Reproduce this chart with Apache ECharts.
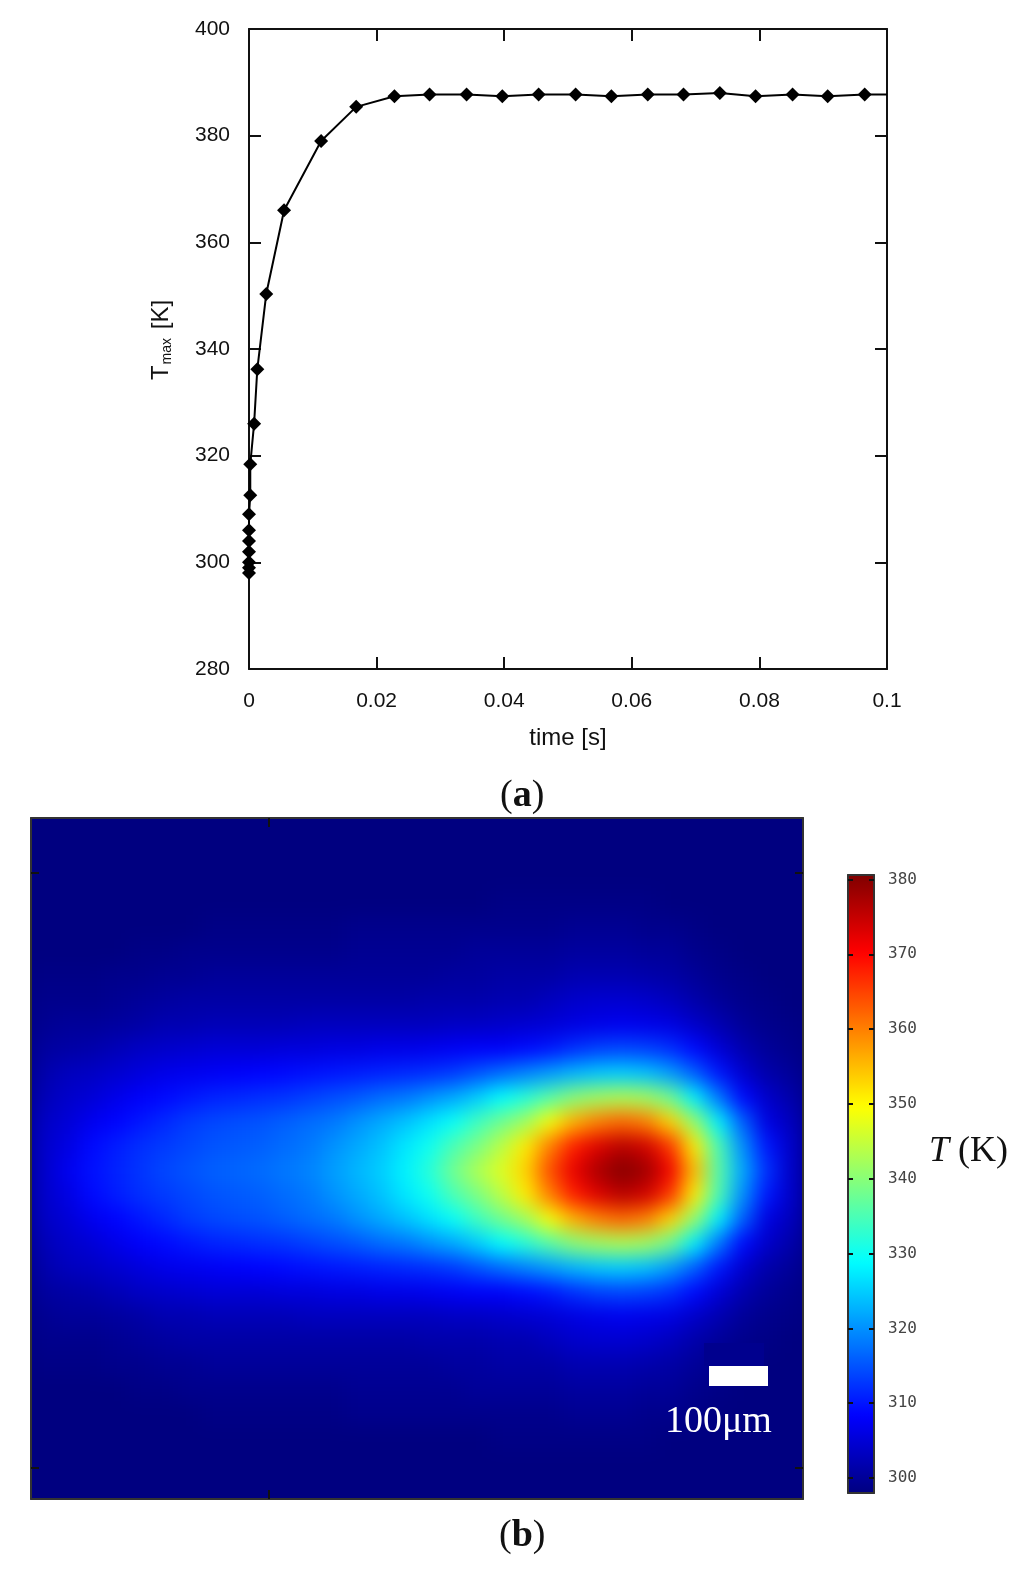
<!DOCTYPE html>
<html>
<head>
<meta charset="utf-8" />
<script src="https://cdn.jsdelivr.net/npm/echarts@6/dist/echarts.min.js"></script>
<title>Tmax and temperature field</title>
<style>
  body { margin: 0; background: #fff; }
  #page { position: relative; width: 1024px; height: 1570px; overflow: hidden; }
  #main { position: absolute; left: 0; top: 0; width: 1024px; height: 1570px; }
  #heatClip { position: absolute; left: 31px; top: 818px; width: 772px; height: 681px; overflow: hidden; background: #000080; }
  /* the field is a coarse read-off grid, the blur gives it back its smooth look */
  #heat { position: absolute; left: -30px; top: -30px; width: 832px; height: 741px; filter: blur(10px); }
</style>
</head>
<body>
<div id="page">
  <div id="heatClip"><div id="heat"></div></div>
  <div id="main"></div>
</div>
<script type="text/javascript">
// panel a: time [s] / Tmax [K]
var timeValues = [0, 0, 0, 0, 0, 0, 0, 0.0002, 0.0002, 0.0008, 0.0013, 0.0027, 0.0055, 0.0113, 0.0168, 0.0228, 0.0283, 0.0341, 0.0397, 0.0454, 0.0512, 0.0568, 0.0625, 0.0681, 0.0738, 0.0794, 0.0852, 0.0907, 0.0965, 0.1];
var tmaxValues = [298, 299, 300, 302, 304, 306, 309, 312.6, 318.4, 326, 336.2, 350.3, 366, 379, 385.4, 387.4, 387.7, 387.7, 387.4, 387.7, 387.7, 387.4, 387.7, 387.7, 388, 387.4, 387.7, 387.4, 387.7, 387.7];

var heatRows = [
  [298,298,298,298,298,298,298,298,298,298,298,298,298,298,298,298,298,298,298,298,298,298,298,298,298,298,298,298,298,298,298,298],
  [298,298,298,298,298,298,298,298,298,298,298,298,298,298,298,298,298,298,298,298,298,298,298,298,298,298,298,298,298,298,298,298],
  [298,298,298,298,298,298,298,298,298,298,298,298,298,298,298,298,298,298,298,298,298,298,298,298,298,298,298,298,298,298,298,298],
  [298,298,298,298,298,298,298,298,298,298,298,298,298,298,298,298,298,298,298,298.5,298.5,298.5,298.5,298.5,298.5,298.5,298,298,298,298,298,298],
  [298,298,298,298,298,298,298,298.5,298.5,298.5,298.5,298.5,298.5,299,299,299,299,299,299,299,299,299,299.5,299.5,299.5,299,299,298.5,298,298,298,298],
  [298,298,298,298,298.5,298.5,299,299,299,299,299,299,299,299.5,299.5,299.5,299.5,299.5,300,300,300,300,300.5,300.5,300.5,300,300,299,298.5,298,298,298],
  [298.5,298.5,298.5,299,299,299.5,299.5,300,300,300,300,300,300,300,300,300,300,300.5,300.5,301,301,301,302,302,302,301.5,301,300,299,298.5,298,298],
  [299,299,299,299.5,300,300.5,301,301,301,301,301,301,301,301,301,301,301.5,301.5,301.5,302,302,303,304,304.5,304.5,304,303,301.5,300,299,298.5,298],
  [299.5,300,300,300.5,301,302,302,302.5,302.5,302.5,302.5,303,303,303,303,303,303,303.5,303.5,304,304.5,305,306,306.5,307,306.5,306,304,302,300,299,298.5],
  [300.5,301,301.5,302.5,303.5,304,304.5,305,305,305,305.5,305.5,306,306,306.5,306.5,307,307.5,308,308,309,310,312,313.5,314,313.5,312,309,305,302,300,299],
  [301.5,303,303.5,304.5,305.5,306.5,307,307.5,308,308.5,309,309.5,310,310.5,311,311.5,312,313,315,317,319,321,323,324.5,325,324,321,316,310,304.5,301.5,300],
  [302.5,304,305,306.5,308,309,310,311,311.5,312,312.5,313.5,314.5,315.5,317,318,320,322,325,329,332,336,340,342,343,342,338,328,318,309,304,301.5],
  [303.5,305,307,308.5,310,311.5,313,314,314.5,315,316,317,318,320,322,324,326.5,329.5,334,338,342,349,356,360,362,360,353,341,328,316,306,303],
  [304,306,309,310.5,312,313,314,315,315.5,316,317,318,320,322,324,327,330,335,339,344,351,360,368,373,376,374,366,351,335,320,310,304],
  [304,307,309.5,311,312.5,314,315,316,316.5,317,318,319,321,323,325,328,332,338,343,347,353,364,372,377,380,378,371,355,336,322,312,304],
  [304,306,309,310.5,312,313,314,315,315.5,316,317,318,320,322,324,327,330,335,339,344,351,360,368,373,376,374,366,351,335,320,310,304],
  [303.5,305,307,308.5,310,311.5,313,314,314.5,315,316,317,318,320,322,324,326.5,329.5,334,338,342,349,356,360,362,360,353,341,328,316,306,303],
  [302.5,304,305,306.5,308,309,310,311,311.5,312,312.5,313.5,314.5,315.5,317,318,320,322,325,329,332,336,340,342,343,342,338,328,318,309,304,301.5],
  [301.5,303,303.5,304.5,305.5,306.5,307,307.5,308,308.5,309,309.5,310,310.5,311,311.5,312,313,315,317,319,321,323,324.5,325,324,321,316,310,304.5,301.5,300],
  [300.5,301,301.5,302.5,303.5,304,304.5,305,305,305,305.5,305.5,306,306,306.5,306.5,307,307.5,308,308,309,310,312,313.5,314,313.5,312,309,305,302,300,299],
  [299.5,300,300,300.5,301,302,302,302.5,302.5,302.5,302.5,303,303,303,303,303,303,303.5,303.5,304,304.5,305,306,306.5,307,306.5,306,304,302,300,299,298.5],
  [299,299,299,299.5,300,300.5,301,301,301,301,301,301,301,301,301,301,301.5,301.5,301.5,302,302,303,304,304.5,304.5,304,303,301.5,300,299,298.5,298],
  [298.5,298.5,298.5,299,299,299.5,299.5,300,300,300,300,300,300,300,300,300,300,300.5,300.5,301,301,301,302,302,302,301.5,301,300,299,298.5,298,298],
  [298,298,298,298,298.5,298.5,299,299,299,299,299,299,299,299.5,299.5,299.5,299.5,299.5,300,300,300,300,300.5,300.5,300.5,300,300,299,298.5,298,298,298],
  [298,298,298,298,298,298,298,298.5,298.5,298.5,298.5,298.5,298.5,299,299,299,299,299,299,299,299,299,299.5,299.5,299.5,299,299,298.5,298,298,298,298],
  [298,298,298,298,298,298,298,298,298,298,298,298,298,298,298,298,298,298,298,298.5,298.5,298.5,298.5,298.5,298.5,298.5,298,298,298,298,298,298],
  [298,298,298,298,298,298,298,298,298,298,298,298,298,298,298,298,298,298,298,298,298,298,298,298,298,298,298,298,298,298,298,298],
  [298,298,298,298,298,298,298,298,298,298,298,298,298,298,298,298,298,298,298,298,298,298,298,298,298,298,298,298,298,298,298,298]
];

// colour bar
var colorbarTicks = [300, 310, 320, 330, 340, 350, 360, 370, 380];
var colorMin = 298;
var colorMax = 380.6;
var jetColors = ['#000080', '#0000ff', '#0080ff', '#00ffff', '#80ff80', '#ffff00', '#ff8000', '#ff0000', '#800000'];

var sans = '"Liberation Sans", Arial, sans-serif';
var serif = '"Liberation Serif", "Times New Roman", serif';
var lineCol = '#111';

// ---- heat field, in its own blurred layer
var heatData = [];
for (var j = 0; j < heatRows.length; j++) {
  for (var i = 0; i < heatRows[j].length; i++) {
    heatData.push([i, j, heatRows[j][i]]);
  }
}
var heatChart = echarts.init(document.getElementById('heat'));
heatChart.setOption({
  animation: false,
  backgroundColor: '#000080',
  grid: { left: 30, top: 30, width: 772, height: 681 },
  xAxis: { type: 'category', show: false, data: heatRows[0].map(function (v, k) { return k; }) },
  yAxis: { type: 'category', show: false, inverse: true, data: heatRows.map(function (v, k) { return k; }) },
  visualMap: { show: false, type: 'continuous', min: colorMin, max: colorMax, inRange: { color: jetColors } },
  series: [{ type: 'heatmap', data: heatData, progressive: 0 }]
});

// ---- everything else
var lineData = timeValues.map(function (t, k) {
  var item = { value: [t, tmaxValues[k]] };
  if (k === timeValues.length - 1) { item.symbol = 'none'; }  // line just runs out at the frame
  return item;
});

function plainAxis(extra) {
  var base = {
    axisLine: { show: true, onZero: false, lineStyle: { color: lineCol, width: 2 } },
    axisTick: { show: true, inside: true, length: 12, lineStyle: { color: lineCol, width: 2 } },
    axisLabel: { show: false },
    splitLine: { show: false }
  };
  return Object.assign(base, extra);
}

var frameLine = { show: true, onZero: false, lineStyle: { color: '#333', width: 2 } };

var myChart = echarts.init(document.getElementById('main'));
myChart.setOption({
  animation: false,
  grid: [
    { left: 249, top: 29, width: 638, height: 640 },
    { left: 31, top: 818, width: 772, height: 681 },
    { left: 848, top: 875, width: 26, height: 618 }
  ],
  xAxis: [
    plainAxis({
      type: 'value', gridIndex: 0, position: 'bottom', min: 0, max: 0.1, interval: 0.02,
      name: 'time [s]', nameLocation: 'middle', nameGap: 57,
      nameTextStyle: { fontFamily: sans, fontSize: 24, color: '#111' },
      axisLabel: { show: true, margin: 22, fontFamily: sans, fontSize: 21, color: '#111' }
    }),
    plainAxis({ type: 'value', gridIndex: 0, position: 'top', min: 0, max: 0.1, interval: 0.02 }),
    plainAxis({
      type: 'value', gridIndex: 1, position: 'bottom', min: 0, max: 772, axisLine: frameLine,
      axisTick: { show: true, inside: true, length: 9, customValues: [238], lineStyle: { color: '#111', width: 2 } }
    }),
    plainAxis({
      type: 'value', gridIndex: 1, position: 'top', min: 0, max: 772, axisLine: frameLine,
      axisTick: { show: true, inside: true, length: 9, customValues: [238], lineStyle: { color: '#111', width: 2 } }
    }),
    plainAxis({ type: 'value', gridIndex: 2, position: 'bottom', min: 0, max: 1, z: 10, axisLine: frameLine, axisTick: { show: false } }),
    plainAxis({ type: 'value', gridIndex: 2, position: 'top', min: 0, max: 1, z: 10, axisLine: frameLine, axisTick: { show: false } })
  ],
  yAxis: [
    plainAxis({
      type: 'value', gridIndex: 0, position: 'left', min: 280, max: 400, interval: 20,
      name: '{first|T}{sub|max}{main| [K]}', nameLocation: 'middle', nameRotate: 90, nameGap: 75,
      nameTextStyle: {
        rich: {
          first: { fontFamily: sans, fontSize: 24, color: '#111', padding: [0, 0, 0, 18] },
          main: { fontFamily: sans, fontSize: 24, color: '#111' },
          sub: { fontFamily: sans, fontSize: 14, color: '#111', padding: [12, 2, 0, 1] }
        }
      },
      axisLabel: { show: true, margin: 19, padding: [4, 0, 0, 0], fontFamily: sans, fontSize: 21, color: '#111' }
    }),
    plainAxis({ type: 'value', gridIndex: 0, position: 'right', min: 280, max: 400, interval: 20 }),
    plainAxis({
      type: 'value', gridIndex: 1, position: 'left', min: 0, max: 681, axisLine: frameLine,
      axisTick: { show: true, inside: true, length: 8, customValues: [31, 626], lineStyle: { color: '#111', width: 2 } }
    }),
    plainAxis({
      type: 'value', gridIndex: 1, position: 'right', min: 0, max: 681, axisLine: frameLine,
      axisTick: { show: true, inside: true, length: 8, customValues: [31, 626], lineStyle: { color: '#111', width: 2 } }
    }),
    plainAxis({
      type: 'value', gridIndex: 2, position: 'left', min: colorMin, max: colorMax, z: 10, axisLine: frameLine,
      axisTick: { show: true, inside: true, length: 5, customValues: colorbarTicks, lineStyle: { color: '#111', width: 2 } }
    }),
    plainAxis({
      type: 'value', gridIndex: 2, position: 'right', min: colorMin, max: colorMax, z: 10, axisLine: frameLine,
      axisTick: { show: true, inside: true, length: 5, customValues: colorbarTicks, lineStyle: { color: '#111', width: 2 } },
      axisLabel: {
        show: true, margin: 14, customValues: colorbarTicks, padding: [0, 0, 4, 0],
        fontFamily: '"DejaVu Sans Mono", monospace', fontSize: 16, color: '#444'
      }
    })
  ],
  visualMap: {
    type: 'continuous', seriesIndex: 1, min: colorMin, max: colorMax,
    left: 848, top: 875, itemWidth: 26, itemHeight: 618, padding: 0,
    calculable: false, realtime: false, hoverLink: false, showLabel: false, text: null,
    inRange: { color: jetColors }, z: 1
  },
  series: [
    {
      type: 'line', xAxisIndex: 0, yAxisIndex: 0, data: lineData, clip: false, z: 5,
      symbol: 'diamond', symbolSize: 14, showAllSymbol: true,
      lineStyle: { color: '#000', width: 2 }, itemStyle: { color: '#000' }
    },
    { type: 'scatter', xAxisIndex: 4, yAxisIndex: 4, data: [], silent: true }
  ],
  graphic: [
    { type: 'text', left: 500, top: 777, style: {
      text: '{n|(}{b|a}{n|)}',
      rich: {
        n: { fontFamily: serif, fontSize: 38, fill: '#111' },
        b: { fontFamily: serif, fontSize: 38, fontWeight: 'bold', fill: '#111' }
      }
    } },
    { type: 'text', left: 499, top: 1517, style: {
      text: '{n|(}{b|b}{n|)}',
      rich: {
        n: { fontFamily: serif, fontSize: 38, fill: '#111' },
        b: { fontFamily: serif, fontSize: 38, fontWeight: 'bold', fill: '#111' }
      }
    } },
    { type: 'text', left: 929, top: 1134, style: {
      text: '{i|T}{n| (K)}',
      rich: {
        i: { fontFamily: serif, fontSize: 36, fontStyle: 'italic', fill: '#111' },
        n: { fontFamily: serif, fontSize: 36, fill: '#111' }
      }
    } },
    // scale bar
    { type: 'rect', shape: { x: 704, y: 1343, width: 60, height: 23 }, style: { fill: '#00008e' }, z: 2 },
    { type: 'rect', shape: { x: 709, y: 1366, width: 59, height: 20 }, style: { fill: '#fff' }, z: 3 },
    { type: 'text', left: 665, top: 1403, style: { text: '100\u03bcm', fontFamily: serif, fontSize: 38, fill: '#fff' }, z: 3 }
  ]
});
</script>
</body>
</html>
